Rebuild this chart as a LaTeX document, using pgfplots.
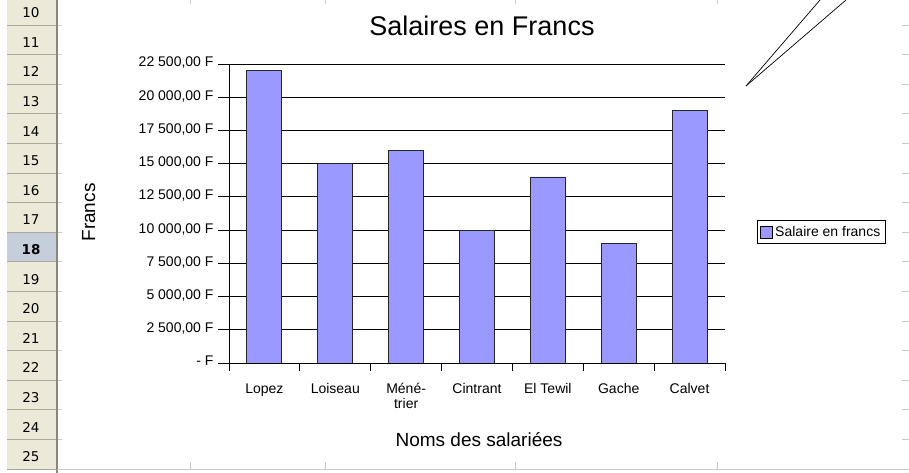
\documentclass[border=0pt]{standalone}
\usepackage{fontspec}
\setmainfont{Liberation Sans}
\newfontfamily\rowfont{DejaVu Sans}
\usepackage{pgfplots}
\pgfplotsset{compat=1.18}
\definecolor{barblue}{HTML}{9999FF}
\definecolor{hdrbg}{HTML}{ECE9D8}
\definecolor{hdrline}{HTML}{ACA899}
\definecolor{hdrsel}{HTML}{C5CEDB}
\definecolor{gridgray}{HTML}{C8C8C8}
\begin{document}
\begin{tikzpicture}[x=1pt,y=1pt]
\useasboundingbox (0,0) rectangle (909,473);
% spreadsheet row header
\fill[hdrbg] (7,4) rectangle (57,473);
\fill[hdrsel] (7,211.2) rectangle (57,240.8);
\foreach \i in {0,...,15}{
  \draw[hdrline, line width=0.9pt] (7,{448-\i*29.6}) -- (57,{448-\i*29.6});
  \draw[gridgray, line width=0.9pt] (57,{448-\i*29.6}) -- (62,{448-\i*29.6});
  \draw[gridgray, line width=0.9pt] (902,{448-\i*29.6}) -- (909,{448-\i*29.6});
  \pgfmathtruncatemacro{\r}{10+\i}
  \ifnum\r=18
    \node[font=\rowfont\bfseries\fontsize{13.5}{15}\selectfont] at (31,{460.3-\i*29.6}) {\r};
  \else
    \node[font=\rowfont\fontsize{13.5}{15}\selectfont] at (31,{460.3-\i*29.6}) {\r};
  \fi
}
\draw[hdrline!80!black, line width=1.2pt] (57,0) -- (57,473);
\draw[gridgray, line width=0.9pt] (57,4) -- (909,4);
\foreach \c in {190,325,515,717}{
  \draw[gridgray, line width=0.9pt] (\c,4) -- (\c,11);
  \draw[gridgray, line width=0.9pt] (\c,473) -- (\c,469);
}
% callout lines
\draw[black, line width=0.7pt] (746,387) -- (820,473);
\draw[black, line width=0.7pt] (746,387) -- (846,473);
% titles
\node[anchor=base, font=\fontsize{27}{32}\selectfont] at (482,437) {Salaires en Francs};
\node[anchor=base, rotate=90, font=\fontsize{19}{22}\selectfont] at (95,260.5) {Francs};
\node[anchor=base, font=\fontsize{19}{22}\selectfont] at (479,26) {Noms des salariées};
\begin{axis}[
  at={(229pt,110pt)}, anchor=south west,
  scale only axis, width=496pt, height=299pt,
  xmin=-0.5, xmax=6.5, ymin=0, ymax=22500,
  scaled y ticks=false,
  axis x line*=bottom, axis y line*=left,
  axis line style={-, black, line width=0.9pt},
  xtick={0,...,6},
  xticklabels={Lopez, Loiseau, {Méné-\\trier}, Cintrant, El Tewil, Gache, Calvet},
  xticklabel style={align=center, anchor=north, yshift=-6pt, font=\fontsize{14}{12}\selectfont},
  typeset ticklabels with strut,
  minor xtick={-0.5,0.5,...,6.5},
  major x tick style={draw=none},
  minor x tick style={draw=black, line width=0.9pt},
  xtick align=outside, ytick align=outside,
  major tick length=11pt, minor tick length=8pt,
  ytick={0,2500,...,22500},
  yticklabels={{- F},{2 500,00 F},{5 000,00 F},{7 500,00 F},{10 000,00 F},{12 500,00 F},{15 000,00 F},{17 500,00 F},{20 000,00 F},{22 500,00 F}},
  yticklabel style={font=\fontsize{14}{13}\selectfont, xshift=-1pt},
  major y tick style={draw=black, line width=0.9pt},
  ymajorgrids, grid style={black, line width=0.9pt},
  ybar, bar width=35pt,
  legend style={at={(1.0645,0.438)}, anchor=west, draw=black, line width=0.9pt, fill=white,
    font=\fontsize{14}{15}\selectfont, inner xsep=3pt, inner ysep=4pt},
  legend cell align=left,
]
\addplot[fill=barblue, draw=black!85, line width=0.9pt,
  legend image code/.code={\draw[fill=barblue, draw=black, line width=0.8pt] (0pt,-6pt) rectangle (12pt,6pt);}]
  coordinates {(0,22000) (1,15000) (2,16000) (3,10000) (4,14000) (5,9000) (6,19000)};
\legend{Salaire en francs}
\end{axis}
\end{tikzpicture}
\end{document}
